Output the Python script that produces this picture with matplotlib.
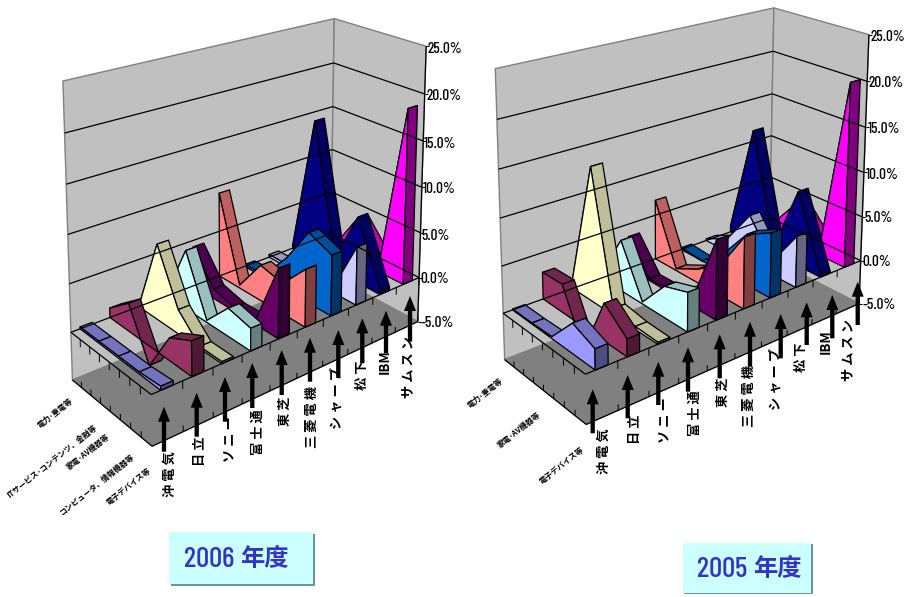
import numpy as np
import matplotlib
matplotlib.use('Agg')
import matplotlib.pyplot as plt
from matplotlib.patches import Polygon, Rectangle, FancyArrow

CJK = ['Noto Sans CJK JP', 'DejaVu Sans']
NARROW = ['Barlow Condensed', 'Archivo Narrow', 'Liberation Sans', 'DejaVu Sans']

companies = ['沖 電 気', '日 立', 'ソ ニ ー', '富 士 通', '東 芝', '三 菱 電 機', 'シ ャ ー プ', '松 下', 'IBM', 'サ ム ス ン']
categories = ['電力･重電等', 'ITサービス･コンテンツ、金融等', '家電･AV機器等', 'コンピュータ、情報機器等', '電子デバイス等']
value_ticks = [25, 20, 15, 10, 5, 0, -5]
colors = ['#9999FF', '#993366', '#FFFFCC', '#CCFFFF', '#660066', '#FF8080', '#0066CC', '#CCCCFF', '#000080', '#FF00FF']

oki_06 = [0.2, 0.2, 0.2, 0.2, 0.4]
hitachi_06 = [1.0, 2.9, -2.0, 2.3, 3.5]
sony_06 = [0.0, 7.9, 2.5, 0.2, 0.2]
fujitsu_06 = [0.3, 6.2, 0.2, 2.9, 2.3]
toshiba_06 = [4.3, 1.0, 0.4, 0.5, 7.2]
mitsubishi_06 = [9.2, 0.3, 3.8, 3.2, 6.0]
sharp_06 = [0.2, 0.4, 3.5, 7.5, 6.4]
matsushita_06 = [0.3, 0.3, 0.3, 0.5, 6.2]
ibm_06 = [0.3, 15.6, 1.5, 7.2, 0.4]
samsung_06 = [0.3, 0.8, 5.0, 1.7, 19.0]

oki_05 = [0.1, 0.1, 0.2, 3.1, 2.1]
hitachi_05 = [2.9, 3.0, -2.5, 3.9, 1.8]
sony_05 = [1.0, 14.3, 0.7, 0.3, 0.2]
fujitsu_05 = [0.5, 5.5, 0.2, 3.3, 4.1]
toshiba_05 = [3.6, 0.2, 0.3, 0.9, 8.4]
mitsubishi_05 = [6.7, 0.2, 1.5, 3.3, 7.6]
sharp_05 = [0.2, 0.0, 2.2, 5.6, 7.0]
matsushita_05 = [0.2, 1.5, 5.4, 1.5, 5.6]
ibm_05 = [0.7, 13.0, 0.8, 8.3, 0.2]
samsung_05 = [0.3, 1.5, 5.0, 1.7, 20.4]

series_06 = [oki_06, hitachi_06, sony_06, fujitsu_06, toshiba_06, mitsubishi_06, sharp_06, matsushita_06, ibm_06, samsung_06]
series_05 = [oki_05, hitachi_05, sony_05, fujitsu_05, toshiba_05, mitsubishi_05, sharp_05, matsushita_05, ibm_05, samsung_05]

GAP, THICK = 0.3, 0.4

# layout: calibration of each oblique frame, (company axis 0-1, depth 0-1, value) -> figure pixel
calib_06 = [
    (0, 0, -5, 152, 447), (1, 0, -5, 418, 322), (0, 1, -5, 72.5, 380),
    (0, 1, 25, 63.5, 81), (1, 1, 25, 333.3, 18.3), (1, 0, 25, 426, 46.7),
    (1, 0, 0, 419, 278), (0, 1, 0, 71.5, 332), (0, 0, 0, 152, 395),
    (1, 1, 20, 333.3, 62.3), (1, 1, 15, 333, 106), (1, 1, 10, 332.7, 150), (1, 1, 5, 331.7, 193),
    (0, 1, 20, 64.5, 132.7), (0, 1, 15, 66, 184), (0, 1, 10, 67.5, 235), (0, 1, 5, 69.5, 284),
    (1, 0, 20, 425, 94.3), (1, 0, 15, 424, 141.7), (1, 0, 10, 422.7, 187.7), (1, 0, 5, 420, 231.7),
    (.03, 0, 0, 160, 391), (.13, 0, 0, 191.7, 377), (.33, 0, 0, 250, 350), (.43, 0, 0, 278, 338),
    (.53, 0, 0, 305, 327), (.63, 0, 0, 331, 316), (.73, 0, 0, 356, 304), (.93, 0, 0, 403, 284),
]
calib_05 = [
    (0, 0, -5, 586.7, 425), (1, 0, -5, 858.3, 305), (0, 1, -5, 504.3, 360.7),
    (0, 1, 25, 495, 69.3), (1, 1, 25, 773.3, 7.3), (1, 0, 25, 868.3, 35),
    (1, 0, 0, 860, 261.7), (0, 1, 0, 503.3, 311.7), (0, 0, 0, 586, 375),
    (1, 1, 20, 773.3, 51.7), (1, 1, 15, 772.3, 94), (1, 1, 10, 771.7, 136), (1, 1, 5, 771, 176.7),
    (0, 1, 20, 496.7, 119), (0, 1, 15, 498.3, 170), (0, 1, 10, 500, 218), (0, 1, 5, 502.3, 265.7),
    (1, 0, 20, 867.3, 81.7), (1, 0, 15, 866.7, 126.7), (1, 0, 10, 865, 172), (1, 0, 5, 861.7, 216.7),
    (.03, 0, 0, 595, 370.5), (.13, 0, 0, 626.7, 357), (.33, 0, 0, 688, 331.7), (.43, 0, 0, 716, 320),
    (.53, 0, 0, 743, 308), (.63, 0, 0, 770, 296.7), (.73, 0, 0, 796, 286.7), (.83, 0, 0, 820, 276.7), (.93, 0, 0, 845, 267.7),
]

def fit_camera(points):
    a, b = [], []
    for X, Z, V, u, w in points:
        V = V / 25
        a.append([X, Z, V, 1, 0, 0, 0, 0, -u * X, -u * Z, -u * V]); b.append(u)
        a.append([0, 0, 0, 0, X, Z, V, 1, -w * X, -w * Z, -w * V]); b.append(w)
    p = np.linalg.lstsq(np.array(a, float), np.array(b, float), rcond=None)[0]
    return np.append(p, 1).reshape(3, 4)

def projector(points):
    P = fit_camera(points)
    def proj(X, Z, V):
        h = P @ np.array([X, Z, V / 25, 1.0])
        return h[0] / h[2], h[1] / h[2]
    return proj

def shade(col, f):
    r = np.array(matplotlib.colors.to_rgb(col)) * f
    return tuple(r)

fig = plt.figure(figsize=(9.05, 5.97), dpi=100)
ax = fig.add_axes([0, 0, 1, 1])
ax.set_xlim(0, 905)
ax.set_ylim(597, 0)
ax.axis('off')

def poly(pts, fc, ec='k', lw=0.9):
    ax.add_patch(Polygon(pts, closed=True, facecolor=fc, edgecolor=ec, linewidth=lw, joinstyle='round'))

def line(p, q, color='k', lw=0.9):
    ax.plot([p[0], q[0]], [p[1], q[1]], color=color, lw=lw, solid_capstyle='butt')

def draw_chart(series, points, tick_pos):
    pr = projector(points)
    top, bot = max(value_ticks), min(value_ticks)
    poly([pr(0, 1, bot), pr(1, 1, bot), pr(1, 1, top), pr(0, 1, top)], '#C0C0C0', '#808080', 1.0)
    poly([pr(1, 1, bot), pr(1, 0, bot), pr(1, 0, top), pr(1, 1, top)], '#C0C0C0', '#808080', 1.0)
    poly([pr(0, 1, bot), pr(1, 1, bot), pr(1, 0, bot), pr(0, 0, bot)], '#808080', '#808080', 0.8)
    for v in value_ticks:
        if bot < v < top:
            line(pr(0, 1, v), pr(1, 1, v))
            line(pr(1, 1, v), pr(1, 0, v))
    line(pr(0, 1, 0), pr(0, 0, 0)); line(pr(0, 0, 0), pr(1, 0, 0))
    line(pr(0, 1, bot), pr(0, 0, bot)); line(pr(0, 0, bot), pr(1, 0, bot))
    line(pr(1, 0, bot), pr(1, 0, top))
    for k in range(1, 11):
        line(pr(k / 10, 0, 0), pr(k / 10, 0, -0.8), lw=0.7)
        line(pr(k / 10, 0, bot), pr(k / 10, 0, bot + 0.6), lw=0.7)
    for k in range(1, 8):
        line(pr(0, k / 8, 0), pr(0, k / 8, -0.8), lw=0.7)
        line(pr(0, k / 8, bot), pr(0, k / 8, bot + 0.6), lw=0.7)
    for v in value_ticks:
        a = pr(1, 0, v)
        line(a, (a[0] + 3, a[1]), lw=0.8)
    n = len(categories)
    for c in range(len(series) - 1, -1, -1):
        vals = series[c]
        xl, xr = (c + GAP) / 10, (c + GAP + THICK) / 10
        zs = [1 - j / (n - 1) for j in range(n)]
        col = colors[c]
        for j in range(n - 1):
            poly([pr(xl, zs[j], vals[j]), pr(xr, zs[j], vals[j]), pr(xr, zs[j + 1], vals[j + 1]), pr(xl, zs[j + 1], vals[j + 1])], shade(col, 0.75))
        face = [pr(xl, zs[j], vals[j]) for j in range(n)] + [pr(xl, 0, 0), pr(xl, 1, 0)]
        poly(face, col)
        poly([pr(xl, 0, vals[-1]), pr(xr, 0, vals[-1]), pr(xr, 0, 0), pr(xl, 0, 0)], shade(col, 0.5))
    for v, (tx, ty) in zip(value_ticks, tick_pos):
        ax.text(tx, ty, f'{v:.1f}%', family=NARROW, fontsize=11, fontweight=500, ha='left', va='center', color='k')

ticks_06 = [(427.7, 49), (426, 95.7), (424, 144), (423, 189), (421.7, 235.7), (420, 279.3), (420.7, 323.3)]
ticks_05 = [(870, 37.3), (868.3, 83.3), (867.3, 129.3), (866, 175), (864.3, 218), (862.3, 262.3), (862.7, 305)]
draw_chart(series_06, calib_06, ticks_06)
draw_chart(series_05, calib_05, ticks_05)

lab_06 = [(170, 474), (200, 451), (230, 439), (257.7, 432), (285, 411.7), (311.7, 416.7), (336.7, 398), (361.7, 375.6), (385, 361.7), (408, 367)]
arr_06 = [(164, 406.7, 451.7), (196.7, 392.7, 436.7), (225, 377, 421.7), (252.3, 363, 408), (281.7, 350, 395), (310, 337.7, 381.7), (338.3, 330, 378), (362.3, 318.3, 363.3), (386, 310.7, 353.3), (410, 296, 341.7)]
lab_05 = [(604, 451), (635, 429.7), (665, 420.5), (695, 413), (723, 392.5), (749, 396), (776, 379), (800.7, 357), (826, 342), (848, 350)]
arr_05 = [(592.7, 389.3, 433.3), (627.7, 375, 418.3), (658.3, 361.7, 405), (688, 347.3, 391.7), (719.7, 334.3, 378.3), (750, 321.7, 366.7), (780.7, 314, 358.3), (806.7, 302.3, 345), (832.3, 295, 338.3), (857.7, 281.7, 325)]
for labs, arrs in ((lab_06, arr_06), (lab_05, arr_05)):
    for name, (lx, ly), (ax_, tip, tail) in zip(companies, labs, arrs):
        ax.text(lx, ly, name, family=CJK, fontsize=9.5, fontweight='bold', rotation=90, ha='center', va='center', rotation_mode='anchor', color='k')
        ax.add_patch(FancyArrow(ax_, tail, 0, tip - tail, width=4.3, head_width=12, head_length=15, length_includes_head=True, color='k', lw=0))

cat_06 = [(0, 55.5, 413), (1, 51.7, 461.7), (2, 88, 451.7), (3, 97, 484), (4, 129, 486.7)]
cat_05 = [(0, 485, 393.3), (2, 518.7, 429.7), (4, 562, 465)]
for i, x, y in cat_06 + cat_05:
    ax.text(x, y, categories[i], family=CJK, fontsize=5.6, fontweight='bold', rotation=38.5, ha='center', va='center', rotation_mode='anchor', color='k')

for (x0, y0, x1, y1, tx, year) in [(169.3, 532.3, 313.3, 584, 184, '2006'), (682.7, 542.7, 811, 592.7, 697, '2005')]:
    ax.add_patch(Rectangle((x0 + 1.5, y0 + 1.5), x1 - x0, y1 - y0, fc='#669999', ec='none'))
    ax.add_patch(Rectangle((x0, y0), x1 - x0, y1 - y0, fc='#CCFFFF', ec='none'))
    cy = (y0 + y1) / 2 + 2
    ax.text(tx, cy, year, family=NARROW, fontsize=21, fontweight=500, color='#3333CC', ha='left', va='center')
    ax.text(tx + 56, cy - 1, '年度', family=CJK, fontsize=17.5, fontweight='bold', color='#3333CC', ha='left', va='center')

fig.savefig('out.png', dpi=100)
